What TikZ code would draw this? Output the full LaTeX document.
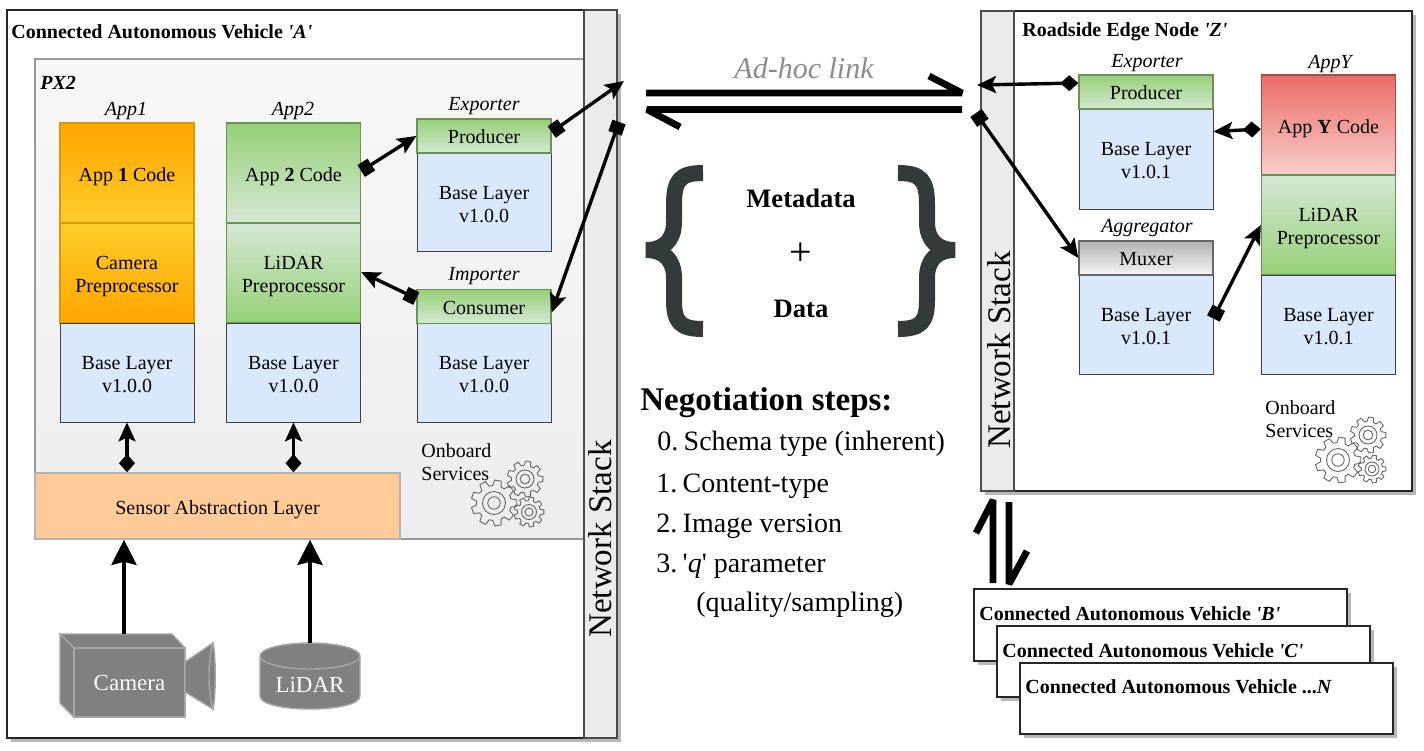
\documentclass[tikz,border=0pt]{standalone}
\usepackage{fontspec}
\setmainfont{Liberation Serif}
\usetikzlibrary{arrows.meta,shadows}

\definecolor{basefill}{HTML}{DAE8FC}
\definecolor{orangetop}{HTML}{FFA500}
\definecolor{orangelow}{HTML}{FFCD28}
\definecolor{orangeline}{HTML}{D79B00}
\definecolor{greentop}{HTML}{97D077}
\definecolor{greenlow}{HTML}{D5E8D4}
\definecolor{redtop}{HTML}{EA6B66}
\definecolor{redlow}{HTML}{F8CECC}
\definecolor{bracecol}{HTML}{323A3A}
\definecolor{salfill}{HTML}{FFCC99}
\definecolor{sensorgray}{HTML}{808080}

\newcommand{\sq}{\textquotesingle}

\tikzset{
	lowered/.style={execute at begin node={\vrule height #1 width 0pt}},
	box/.style={rectangle, inner sep=0, align=center, font=\fontsize{10}{11.5}\selectfont},
	hostbox/.style={box, draw=black!85, line width=1pt, fill=white, drop shadow={opacity=1, fill=black!28, shadow xshift=2pt, shadow yshift=-2pt}},
	stackbox/.style={box, draw=black!70, line width=.8pt, fill=black!8},
	basebox/.style={box, minimum width=67pt, fill=basefill, draw=black!75, line width=.4pt, lowered=20.1pt},
	tallbox/.style={box, minimum width=67pt, minimum height=50pt, line width=.7pt, lowered=#1},
	tallbox/.default=10.6pt,
	headbox/.style={box, minimum width=67pt, minimum height=17pt, line width=.7pt, lowered=8pt},
	orangebox/.style={draw=orangeline},
	greenbox/.style={draw=greentop!70!black},
	title/.style={font=\bfseries\fontsize{10}{12}\selectfont, anchor=west, inner sep=0},
	tag/.style={font=\itshape\fontsize{10}{12}\selectfont, inner sep=0},
	plain/.style={font=\fontsize{10}{11.5}\selectfont, align=left, inner sep=0, anchor=north west},
	steptext/.style={font=\fontsize{14}{16}\selectfont, anchor=west, inner sep=0},
	sensortext/.style={text=white, font=\fontsize{11.5}{13}\selectfont},
	sensorshape/.style={fill=sensorgray, draw=black!35, line width=.7pt},
	linkarrow/.style={line width=1.7pt, arrows={Square[length=6pt,width=7pt]-Stealth[length=9.5pt,width=8.5pt,inset=2pt]}},
	diamarrow/.style={line width=1.7pt, arrows={Diamond[length=9pt,width=8pt]-Stealth[length=9.5pt,width=8.5pt,inset=2pt]}},
	bigarrow/.style={line width=2pt, arrows={-Stealth[length=12.5pt,width=12.5pt,inset=1.5pt]}},
	halfarrow/.style={line width=3.4pt, line join=bevel},
	bracepath/.style={line width=8pt, draw=bracecol},
	gearline/.style={draw=black!60, line width=.45pt}
}

\newcommand{\gearicon}[3]{
	\begin{scope}[shift={(#1,#2)}]
		\draw[gearline] (-14:.76*#3) \foreach \k in {0,40,...,320} { -- (\k-14:.76*#3) -- (\k-8:#3) -- (\k+8:#3) -- (\k+14:.76*#3) } -- cycle;
		\draw[gearline] (0,0) circle ({.5*#3});
		\draw[gearline] (0,0) circle ({.27*#3});
	\end{scope}
}

\begin{document}
\begin{tikzpicture}[x=.5pt,y=-.5pt]
	\useasboundingbox (0,0) rectangle (1424,750);

	% vehicle A
	\node[hostbox, minimum width=305pt, minimum height=364pt] (hostA) at (312,374) {};
	\node[box, top color=black!3, bottom color=black!7, draw=black!40, line width=.8pt, minimum width=274.5pt, minimum height=240pt] (px) at (309.5,299) {};
	\node[stackbox, minimum width=16.5pt, minimum height=364pt] (stackA) at (600.5,374) {};
	\node[rotate=90, inner sep=0, font=\fontsize{16.5}{18}\selectfont] (stackAtext) at (600,539) {Network Stack};
	\node[title] (hostAtitle) at (11,32) {Connected Autonomous Vehicle \textit{\sq A\sq}};
	\node[title] (pxtitle) at (40,83) {\textit{PX2}};

	\node[tag] (app1tag) at (126,111) {App1};
	\node[tag] (app2tag) at (293,111) {App2};
	\node[tag] (exptag) at (484,106) {Exporter};
	\node[tag] (imptag) at (484,276) {Importer};

	\node[tallbox, orangebox, top color=orangetop, bottom color=orangelow] (app1code) at (127,173) {App \textbf{1} Code};
	\node[tallbox=22.1pt, orangebox, top color=orangelow, bottom color=orangetop] (app1prep) at (127,273) {Camera\\Preprocessor};
	\node[basebox, minimum height=49.5pt] (app1base) at (127,372.5) {Base Layer\\v1.0.0};

	\node[tallbox, greenbox, top color=greentop, bottom color=greenlow] (app2code) at (293.5,173) {App \textbf{2} Code};
	\node[tallbox=22.1pt, greenbox, top color=greenlow, bottom color=greentop] (app2prep) at (293.5,273) {LiDAR\\Preprocessor};
	\node[basebox, minimum height=49.5pt] (app2base) at (293.5,372.5) {Base Layer\\v1.0.0};

	\node[basebox, minimum height=49pt] (expbase) at (484,202.5) {Base Layer\\v1.0.0};
	\node[headbox, greenbox, top color=greentop, bottom color=greenlow] (producerA) at (484,136) {Producer};
	\node[basebox, minimum height=49.5pt] (impbase) at (484,372.5) {Base Layer\\v1.0.0};
	\node[headbox, greenbox, top color=greentop, bottom color=greenlow] (consumerA) at (484,306.5) {Consumer};

	\node[box, fill=salfill, draw=black!30, line width=.8pt, minimum width=182.5pt, minimum height=33pt, lowered=10.6pt] (sal) at (217.5,506) {Sensor Abstraction Layer};

	\node[plain] (servA) at (421,443) {Onboard\\Services};
	\gearicon{494}{503}{23}
	\gearicon{525}{479}{18}
	\gearicon{529}{512}{15}

	% sensors
	\draw[sensorshape] (60,634) -- (172,634) -- (185,648) -- (74,648) -- cycle;
	\draw[sensorshape] (60,634) -- (74,648) -- (74,717) -- (60,703) -- cycle;
	\node[box, sensorshape, minimum width=55.5pt, minimum height=34.5pt, sensortext] (camera) at (129.5,682.5) {Camera};
	\draw[sensorshape] (185,662) -- (213,643) -- (213,709) -- (185,692) -- cycle;
	\draw[sensorshape] (213,643) .. controls (216,655) and (216,697) .. (213,709) .. controls (208,697) and (208,655) .. (213,643);
	\coordinate (camtop) at (124,634);
	\draw[sensorshape] (260,656) -- (260,696) .. controls (260,704) and (282,709) .. (310,709) .. controls (338,709) and (360,704) .. (360,696) -- (360,656);
	\draw[sensorshape] (310,656) ellipse (50 and 13);
	\node[box, minimum width=50pt, minimum height=33pt, sensortext, lowered=16.6pt] (lidarA) at (310,676) {LiDAR};

	\draw[bigarrow] (camtop) -- (camtop |- sal.south);
	\draw[bigarrow] (lidarA.north) -- (lidarA.north |- sal.south);
	\draw[diamarrow] (app1base.south |- sal.north) -- (app1base.south);
	\draw[diamarrow] (app2base.south |- sal.north) -- (app2base.south);

	\coordinate (outA) at (624,81);
	\coordinate (inA) at (619,122);
	\draw[linkarrow] ([yshift=1pt]app2code.east) -- (producerA.west);
	\draw[linkarrow] ([yshift=2pt]producerA.east) -- (outA);
	\draw[linkarrow] (inA) -- ([yshift=-3pt]consumerA.east);
	\draw[linkarrow] ([yshift=4pt]consumerA.west) -- ([yshift=.5pt]app2prep.east);

	% ad-hoc link
	\node[font=\itshape\fontsize{15}{17}\selectfont, text=black!45, inner sep=0] (adhoc) at (804,68) {Ad-hoc link};
	\coordinate (upL) at (646,93);
	\coordinate (upR) at (962,93);
	\coordinate (upB) at (929,76);
	\coordinate (lowR) at (962,109.5);
	\coordinate (lowL) at (647,109.5);
	\coordinate (lowB) at (680,127);
	\draw[halfarrow] (upL) -- (upR) -- (upB);
	\draw[halfarrow] (lowR) -- (lowL) -- (lowB);

	% payload
	\draw[bracepath] (703,173) .. controls (680,173) and (674,180) .. (674,205) -- (674,222) .. controls (674,240) and (664,250) .. (646,250) .. controls (664,250) and (674,260) .. (674,278) -- (674,300) .. controls (674,322) and (680,329) .. (703,329);
	\draw[bracepath] (898,173) .. controls (921,173) and (927,180) .. (927,205) -- (927,222) .. controls (927,240) and (937,250) .. (955,250) .. controls (937,250) and (927,260) .. (927,278) -- (927,300) .. controls (927,322) and (921,329) .. (898,329);
	\node[font=\bfseries\fontsize{13.3}{15}\selectfont, inner sep=0] (meta) at (801,198) {Metadata};
	\node[font=\fontsize{20}{22}\selectfont, inner sep=0] (plus) at (801,254) {+};
	\node[font=\bfseries\fontsize{13.3}{15}\selectfont, inner sep=0] (data) at (801,309) {Data};

	\node[font=\bfseries\fontsize{16.5}{18}\selectfont, anchor=west, inner sep=0] (steps) at (640,403) {Negotiation steps:};
	\node[steptext] (step0) at (657,444) {0.\kern-2pt{} Schema type (inherent)};
	\node[steptext] (step1) at (656,486) {1.\kern-2pt{} Content-type};
	\node[steptext] (step2) at (656,526) {2.\kern-2pt{} Image version};
	\node[steptext] (step3) at (656,566) {3.\kern-2pt{} \sq\textit{q}\sq{} parameter};
	\node[steptext] (step3b) at (696,605) {(quality/sampling)};

	% edge node Z
	\node[hostbox, minimum width=215.5pt, minimum height=240pt] (hostZ) at (1196.5,251) {};
	\node[stackbox, minimum width=16.5pt, minimum height=240pt] (stackZ) at (997.5,251) {};
	\node[rotate=90, inner sep=0, font=\fontsize{16.5}{18}\selectfont] (stackZtext) at (999,350) {Network Stack};
	\node[title] (hostZtitle) at (1022,32) {Roadside Edge Node \textit{\sq Z\sq}};

	\node[tag] (expZtag) at (1147,63) {Exporter};
	\node[tag] (aggtag) at (1147,228) {Aggregator};
	\node[tag] (apptag) at (1330,64) {AppY};

	\node[basebox, minimum height=50pt] (expZbase) at (1146,159) {Base Layer\\v1.0.1};
	\node[headbox, greenbox, top color=greentop, bottom color=greenlow] (producerZ) at (1146,92) {Producer};
	\node[basebox, minimum height=49.5pt] (aggbase) at (1146,324.5) {Base Layer\\v1.0.1};
	\node[headbox, draw=black!60, top color=black!30, bottom color=black!4] (muxer) at (1146,258) {Muxer};

	\node[tallbox, draw=redtop!70!black, top color=redtop, bottom color=redlow] (appYcode) at (1328.5,125) {App \textbf{Y} Code};
	\node[tallbox=22.1pt, greenbox, top color=greenlow, bottom color=greentop] (appYprep) at (1328.5,225) {LiDAR\\Preprocessor};
	\node[basebox, minimum height=49.5pt] (appYbase) at (1328.5,324.5) {Base Layer\\v1.0.1};

	\node[plain] (servZ) at (1265,400) {Onboard\\Services};
	\gearicon{1338}{460}{23}
	\gearicon{1368}{435}{18}
	\gearicon{1372}{469}{14}

	\coordinate (outZ) at (977,85);
	\coordinate (inZ) at (976,113);
	\draw[diamarrow] ([yshift=4.5pt]producerZ.west) -- (outZ);
	\draw[diamarrow] ([yshift=-2pt]appYcode.west) -- ([yshift=-11.5pt]expZbase.north east);
	\draw[linkarrow] (inZ) -- (muxer.west);
	\draw[linkarrow] ([yshift=3pt]aggbase.east) -- (appYprep.west);

	% other vehicles
	\node[hostbox, minimum width=186.5pt, minimum height=36pt] (carB) at (1160.5,625) {};
	\node[title] (carBtitle) at (979,614) {Connected Autonomous Vehicle \textit{\sq B\sq}};
	\node[hostbox, minimum width=186.5pt, minimum height=35.5pt] (carC) at (1183.5,661.5) {};
	\node[title] (carCtitle) at (1002,651) {Connected Autonomous Vehicle \textit{\sq C\sq}};
	\node[hostbox, minimum width=186.5pt, minimum height=35.5pt] (carN) at (1206.5,698.5) {};
	\node[title] (carNtitle) at (1025,687) {Connected Autonomous Vehicle ...\textit{N}};

	\coordinate (upT) at (993,500);
	\coordinate (upS) at (993,583);
	\coordinate (upH) at (976,533);
	\coordinate (downT) at (1009,502);
	\coordinate (downS) at (1009,584);
	\coordinate (downH) at (1027,551);
	\draw[halfarrow] (upS) -- (upT) -- (upH);
	\draw[halfarrow] (downT) -- (downS) -- (downH);
\end{tikzpicture}
\end{document}
